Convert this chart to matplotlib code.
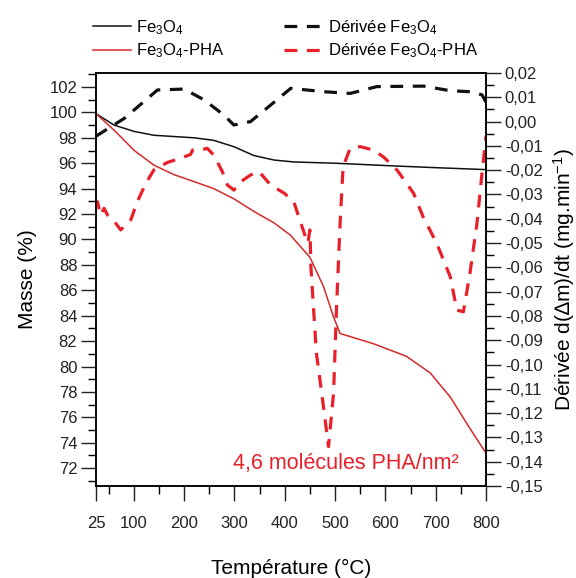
import matplotlib
matplotlib.use('Agg')
import matplotlib.pyplot as plt
from matplotlib.ticker import MultipleLocator, FixedLocator, FuncFormatter

plt.rcParams['font.family'] = ['Liberation Sans', 'DejaVu Sans']
plt.rcParams['mathtext.default'] = 'regular'

# TGA mass curves (%)
temp_fe = [25, 61, 101, 140, 180, 220, 259, 299, 339, 379, 418, 500, 610, 700, 798]
mass_fe = [99.9, 99.0, 98.5, 98.2, 98.1, 98.0, 97.8, 97.3, 96.6, 96.25, 96.1, 96.0, 95.8, 95.65, 95.5]

temp_pha = [25, 61, 101, 140, 180, 220, 259, 299, 339, 379, 411, 450, 477, 497, 510,
            576, 642, 689, 729, 762, 798]
mass_pha = [99.9, 98.6, 97.0, 95.85, 95.1, 94.55, 94.0, 93.2, 92.2, 91.3, 90.35, 88.6, 86.3, 83.9, 82.6,
            81.8, 80.8, 79.5, 77.6, 75.5, 73.3]

# derivative curves (mg/min)
temp_dfe = [25, 81, 120, 147, 200, 240, 279, 299, 332, 372, 412, 477, 530, 583, 676, 729, 769, 792, 800]
deriv_fe = [-0.006, 0.0013, 0.0082, 0.013, 0.0134, 0.0089, 0.0027, -0.0014, 0.0, 0.0068, 0.0137,
            0.0123, 0.0116, 0.0144, 0.0146, 0.0127, 0.0123, 0.011, 0.008]

temp_dpha = [25, 28, 34, 41, 48, 61, 74, 94, 107, 124, 140, 167, 193, 213, 217, 233, 246, 259,
             276, 286, 299, 313, 332, 349, 372, 399, 418, 430, 440, 446, 450, 451, 452, 457, 463,
             477, 487, 497, 503, 510, 516, 530, 550, 576, 596, 623, 656, 675, 702, 729, 742,
             755, 768, 782, 792, 800]
deriv_pha = [-0.035, -0.033, -0.0385, -0.0357, -0.0385, -0.041, -0.0446, -0.0405, -0.033, -0.0254,
             -0.0199, -0.0168, -0.0151, -0.0135, -0.0117, -0.0117, -0.011, -0.0138, -0.0206, -0.0261,
             -0.0282, -0.0247, -0.022, -0.0206, -0.0261, -0.0295, -0.033, -0.0405, -0.0467, -0.050,
             -0.0446, -0.0515, -0.0597, -0.0762, -0.0954, -0.1174, -0.1338, -0.1119, -0.0762, -0.0419,
             -0.0186, -0.011, -0.0103, -0.0117, -0.0145, -0.0199, -0.0295, -0.0392, -0.0501, -0.0639,
             -0.0776, -0.0783, -0.0625, -0.0419, -0.0213, -0.006]

fig = plt.figure(figsize=(5.76, 5.78), dpi=100)
ax = fig.add_axes([0.1667, 0.1592, 0.6771, 0.7145])
ax2 = ax.twinx()

black = '#111111'
red_solid = '#d42a2a'
red_dash = '#e8202a'

l1, = ax.plot(temp_fe, mass_fe, color=black, lw=1.1, label='Fe$_3$O$_4$')
l2, = ax.plot(temp_pha, mass_pha, color=red_solid, lw=1.1, label='Fe$_3$O$_4$-PHA')
l3, = ax2.plot(temp_dfe, deriv_fe, color=black, lw=2.3, dashes=(4, 3), label='Dérivée Fe$_3$O$_4$')
l4, = ax2.plot(temp_dpha, deriv_pha, color=red_dash, lw=2.3, dashes=(4, 3), label='Dérivée Fe$_3$O$_4$-PHA')

ax.set_xlim(25, 800)
ax.set_ylim(70.6, 103.1)
ax2.set_ylim(-0.15, 0.02)

ax.xaxis.set_major_locator(FixedLocator([25, 100, 200, 300, 400, 500, 600, 700, 800]))
ax.xaxis.set_minor_locator(FixedLocator([50, 150, 250, 350, 450, 550, 650, 750]))
ax.yaxis.set_major_locator(MultipleLocator(2))
ax.yaxis.set_minor_locator(MultipleLocator(1))
ax2.yaxis.set_major_locator(MultipleLocator(0.01))
ax2.yaxis.set_minor_locator(MultipleLocator(0.005))
ax2.yaxis.set_major_formatter(FuncFormatter(lambda v, p: f'{v:.2f}'.replace('.', ',').replace('-0,00', '0,00')))

for a in (ax, ax2):
    a.tick_params(which='major', direction='out', length=10.5, width=1, labelsize=12,
                  colors='#222222', pad=3)
    a.tick_params(which='minor', direction='out', length=5.5, width=1)
    for s in a.spines.values():
        s.set_linewidth(1.1)
ax.tick_params(axis='x', pad=11)

ax.set_xlabel('Température (°C)', fontsize=15, labelpad=20)
ax.set_ylabel('Masse (%)', fontsize=15, labelpad=9)
ax2.set_ylabel('Dérivée d(∆m)/dt (mg.min$^{-1}$)', fontsize=15, labelpad=6)

ax.text(0.64, 0.04, '4,6 molécules PHA/nm²', transform=ax.transAxes, color=red_dash,
        fontsize=15.5, ha='center', va='baseline')

fig.legend(handles=[l1, l2, l3, l4], ncol=2, loc='upper left', bbox_to_anchor=(0.135, 0.995),
           frameon=False, fontsize=12, handlelength=2.3, columnspacing=3.6, labelspacing=0.3,
           handletextpad=0.3)

fig.savefig('out.png', dpi=100)
